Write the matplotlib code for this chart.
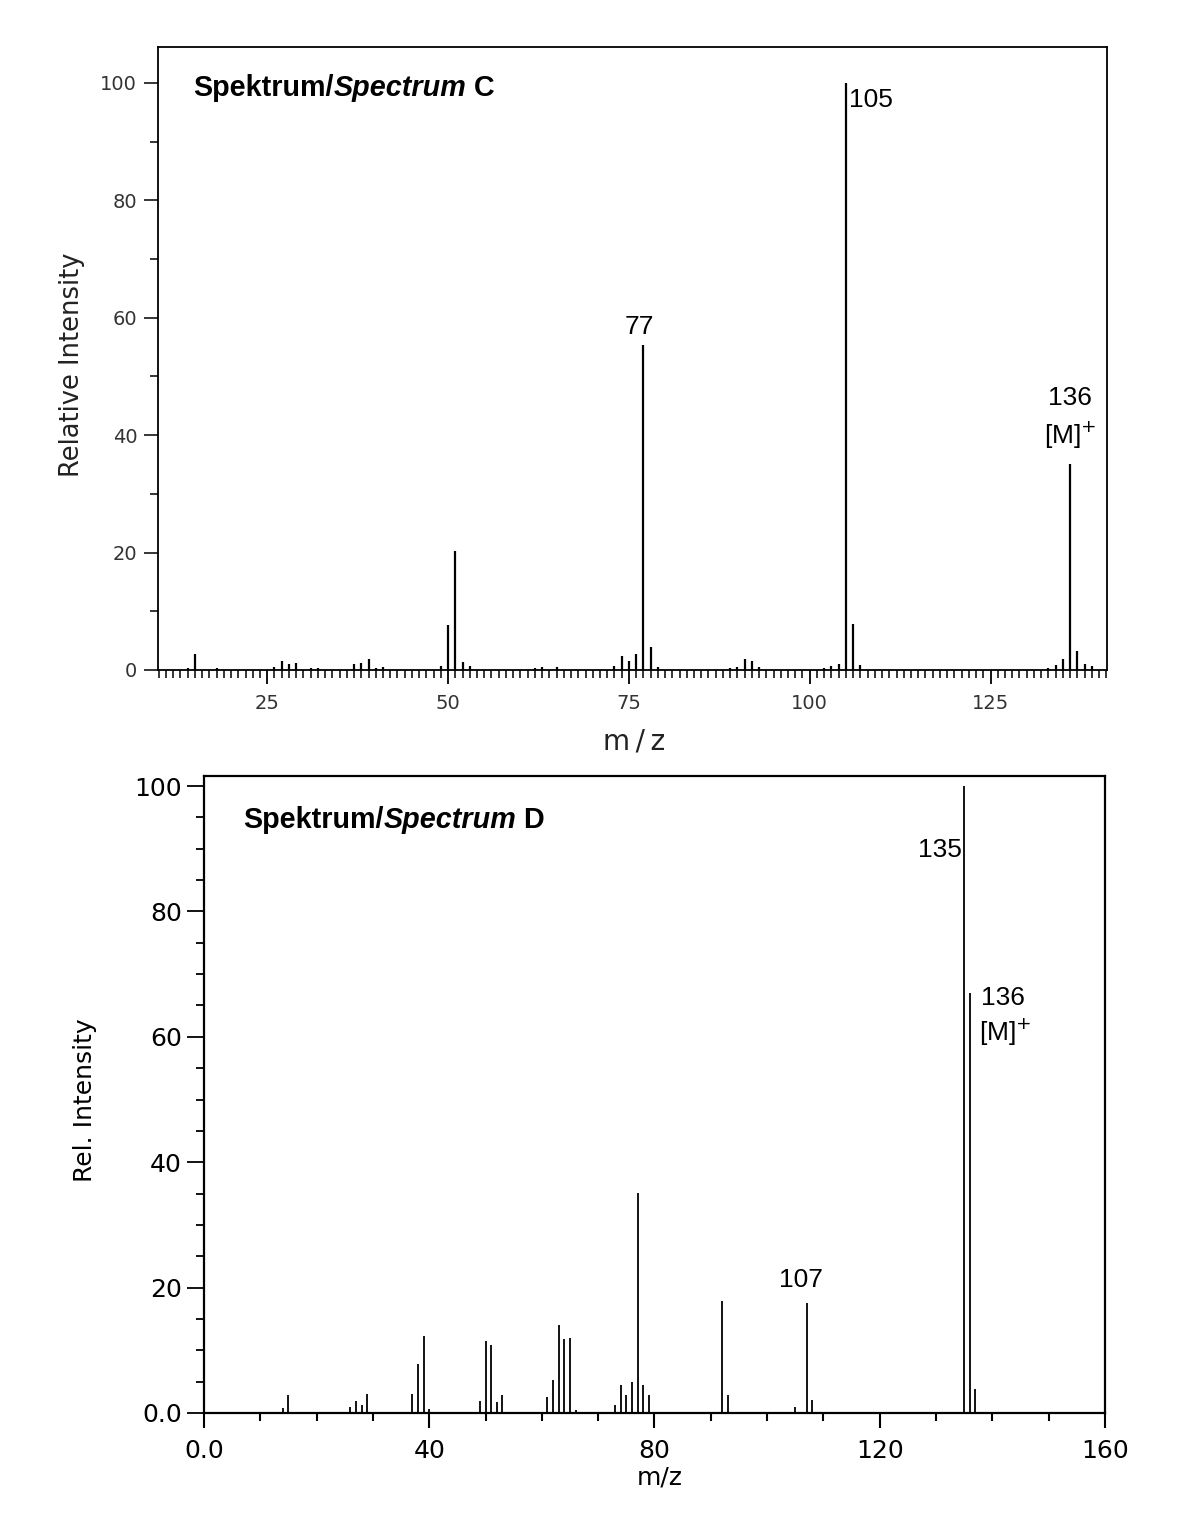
import matplotlib
matplotlib.use("Agg")
import matplotlib.pyplot as plt
from matplotlib.ticker import MultipleLocator, FixedLocator

# ---------------- data: Spectrum C ----------------
c_mz = [14, 15, 18, 26, 27, 28, 29, 31, 32, 37, 38, 39, 40, 41, 49, 50, 51, 52, 53,
        62, 63, 65, 73, 74, 75, 76, 77, 78, 79, 89, 90, 91, 92, 93, 102, 103, 104,
        105, 106, 107, 133, 134, 135, 136, 137, 138, 139]
c_int = [0.4, 2.7, 0.3, 0.5, 1.6, 1.0, 1.2, 0.3, 0.3, 1.0, 1.2, 1.8, 0.4, 0.5, 0.6, 7.6, 20.3, 1.3, 0.7,
         0.4, 0.5, 0.5, 0.6, 2.4, 1.5, 2.7, 55.3, 3.9, 0.5, 0.4, 0.5, 1.9, 1.6, 0.5, 0.4, 0.6, 1.0,
         100.0, 7.8, 0.8, 0.4, 0.8, 1.8, 35.1, 3.2, 1.0, 0.7]
c_xticks = [25, 50, 75, 100, 125]
c_yticks = [0, 20, 40, 60, 80, 100]

# ---------------- data: Spectrum D ----------------
d_mz = [14, 15, 26, 27, 28, 29, 37, 38, 39, 40, 49, 50, 51, 52, 53, 61, 62, 63, 64, 65, 66,
        73, 74, 75, 76, 77, 78, 79, 92, 93, 105, 107, 108, 135, 136, 137]
d_int = [0.8, 2.9, 1.0, 1.9, 1.2, 3.0, 3.0, 7.8, 12.3, 0.6, 1.9, 11.5, 10.8, 1.7, 2.9, 2.6, 5.3, 14.1, 11.8, 12.0, 0.5,
         1.2, 4.5, 2.8, 5.0, 35.1, 4.5, 2.8, 17.8, 2.8, 1.0, 17.5, 2.0, 100.0, 67.0, 3.8]
d_xticks = [0, 40, 80, 120, 160]
d_xticklabels = ["0.0", "40", "80", "120", "160"]
d_yticks = [0, 20, 40, 60, 80, 100]
d_yticklabels = ["0.0", "20", "40", "60", "80", "100"]

ARIAL = "Liberation Sans"
DEJAVU = "DejaVu Sans"

fig = plt.figure(figsize=(12, 15.13), dpi=100)

# ================= Top: Spectrum C =================
ax1 = fig.add_axes([0.1317, 0.5572, 0.7908, 0.4117])
ax1.vlines(c_mz, 0, c_int, colors="black", linewidth=1.6)
ax1.set_xlim(9.9, 141.1)
ax1.set_ylim(0, 106.1)
for s in ax1.spines.values():
    s.set_linewidth(1.3)
ax1.xaxis.set_major_locator(FixedLocator(c_xticks))
ax1.xaxis.set_minor_locator(MultipleLocator(1))
ax1.yaxis.set_major_locator(FixedLocator(c_yticks))
ax1.yaxis.set_minor_locator(MultipleLocator(10))
ax1.tick_params(axis="x", which="major", direction="out", length=10, width=1.3,
                labelsize=14, labelcolor="#333333", pad=7)
ax1.tick_params(axis="x", which="minor", direction="out", length=6, width=1.1)
ax1.tick_params(axis="y", which="major", direction="out", length=10, width=1.1,
                labelsize=14, labelcolor="#333333", pad=5)
ax1.tick_params(axis="y", which="minor", direction="out", length=6, width=1.1)
for lab in ax1.get_xticklabels() + ax1.get_yticklabels():
    lab.set_family(DEJAVU)

ax1.text(0.5016, -0.1156, "m\u2009/\u2009z", transform=ax1.transAxes, ha="center", va="center",
         fontsize=20, family=DEJAVU, color="#222222")
ax1.text(-0.0906, 0.49, "Relative Intensity", transform=ax1.transAxes, ha="center", va="center",
         rotation=90, fontsize=18.5, family=DEJAVU, color="#222222")

t1 = ax1.text(0.0369, 0.934, "Spektrum/", transform=ax1.transAxes, ha="left", va="center",
              fontsize=20.7, family=ARIAL, weight="bold")
t2 = ax1.annotate("Spectrum", xy=(1, 0), xycoords=t1, ha="left", va="bottom",
                  fontsize=20.7, family=ARIAL, weight="bold", style="italic")
ax1.annotate(" C", xy=(1, 0), xycoords=t2, ha="left", va="bottom",
             fontsize=20.7, family=ARIAL, weight="bold")

ax1.text(105.4, 97, "105", ha="left", va="center", fontsize=19, family=ARIAL)
ax1.text(76.5, 58.4, "77", ha="center", va="center", fontsize=19, family=ARIAL)
ax1.text(136, 46.3, "136", ha="center", va="center", fontsize=19, family=ARIAL)
ax1.text(136, 40.0, "[M]$^{+}$", ha="center", va="center", fontsize=19, family=ARIAL)

# ================= Bottom: Spectrum D =================
ax2 = fig.add_axes([0.17, 0.0661, 0.7508, 0.421])
ax2.vlines(d_mz, 0, d_int, colors="black", linewidth=1.3)
ax2.set_xlim(0, 160)
ax2.set_ylim(0, 101.6)
for s in ax2.spines.values():
    s.set_linewidth(1.6)
ax2.xaxis.set_major_locator(FixedLocator(d_xticks))
ax2.set_xticklabels(d_xticklabels)
ax2.xaxis.set_minor_locator(MultipleLocator(10))
ax2.yaxis.set_major_locator(FixedLocator(d_yticks))
ax2.set_yticklabels(d_yticklabels)
ax2.yaxis.set_minor_locator(MultipleLocator(5))
ax2.tick_params(axis="x", which="major", direction="out", length=11, width=1.5,
                labelsize=18, pad=8)
ax2.tick_params(axis="x", which="minor", direction="out", length=6, width=1.5)
ax2.tick_params(axis="y", which="major", direction="out", length=12, width=1.3,
                labelsize=18, pad=4)
ax2.tick_params(axis="y", which="minor", direction="out", length=6, width=1.3)
for lab in ax2.get_xticklabels() + ax2.get_yticklabels():
    lab.set_family(DEJAVU)

ax2.text(0.506, -0.102, "m/z", transform=ax2.transAxes, ha="center", va="center",
         fontsize=18, family=DEJAVU)
ax2.text(-0.132, 0.491, "Rel. Intensity", transform=ax2.transAxes, ha="center", va="center",
         rotation=90, fontsize=18, family=DEJAVU)

u1 = ax2.text(0.0433, 0.931, "Spektrum/", transform=ax2.transAxes, ha="left", va="center",
              fontsize=20.7, family=ARIAL, weight="bold")
u2 = ax2.annotate("Spectrum", xy=(1, 0), xycoords=u1, ha="left", va="bottom",
                  fontsize=20.7, family=ARIAL, weight="bold", style="italic")
ax2.annotate(" D", xy=(1, 0), xycoords=u2, ha="left", va="bottom",
             fontsize=20.7, family=ARIAL, weight="bold")

ax2.text(134.6, 89.8, "135", ha="right", va="center", fontsize=19, family=ARIAL)
ax2.text(137.9, 66.2, "136", ha="left", va="center", fontsize=19, family=ARIAL)
ax2.text(137.6, 60.8, "[M]$^{+}$", ha="left", va="center", fontsize=19, family=ARIAL)
ax2.text(106.0, 21.2, "107", ha="center", va="center", fontsize=19, family=ARIAL)

fig.savefig("out.png", dpi=100, facecolor="white")
